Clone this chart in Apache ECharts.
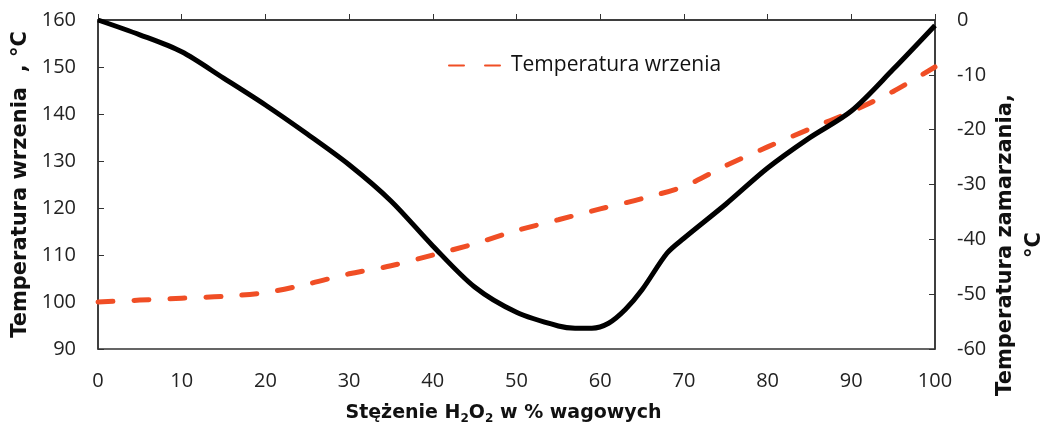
<!DOCTYPE html>
<html lang="pl">
<head>
    <meta charset="UTF-8">
    <title>H2O2</title>
    <script src="https://cdn.jsdelivr.net/npm/echarts@6/dist/echarts.min.js"></script>
    <style>
        html, body { margin: 0; padding: 0; background: #fff; }
        #chart { width: 1043px; height: 425px; }
    </style>
</head>
<body>
    <div id="chart"></div>
    <script>
        // stężenie H2O2, % wag.
        const conc = [0, 5, 10, 15, 20, 25, 30, 35, 40, 45, 50, 55, 57, 59, 61, 63, 65, 68, 70, 75, 80, 85, 90, 95, 100];
        // temperatura zamarzania, °C (prawa oś)
        const freezing = [0, -2.7, -5.8, -10.6, -15.5, -20.8, -26.4, -33.0, -41.2, -48.7, -53.3, -55.8, -56.2, -56.2, -55.3, -52.8, -49.2, -42.5, -39.8, -33.6, -27.0, -21.5, -16.6, -9.0, -1.0];

        const concB = [0, 5, 10, 15, 20, 25, 30, 35, 40, 45, 50, 55, 60, 65, 70, 75, 80, 85, 90, 95, 100];
        // temperatura wrzenia, °C (lewa oś)
        const boiling = [100, 100.4, 100.8, 101.2, 102.0, 103.8, 106.0, 107.7, 110.0, 112.4, 115.2, 117.5, 119.8, 122.0, 124.6, 129.0, 133.0, 136.8, 140.5, 144.8, 150];

        const font = '"Open Sans", sans-serif';
        const titleFont = '"DejaVu Sans", sans-serif';
        const chart = echarts.init(document.getElementById('chart'));

        chart.setOption({
            animation: false,
            grid: {
                left: 98, right: 108, top: 20, bottom: 76,
                outerBoundsMode: 'none',
                show: true, borderColor: '#333', borderWidth: 1.5
            },
            legend: {
                data: ['Temperatura wrzenia'],
                left: 443, top: 50,
                itemWidth: 57, itemHeight: 14, itemGap: 11,
                itemStyle: { opacity: 0 },
                lineStyle: { type: [15, 21] },
                textStyle: { fontFamily: font, fontSize: 21, color: '#111' }
            },
            xAxis: {
                type: 'value', min: 0, max: 100, interval: 10,
                name: 'Stężenie H{s|2}O{s|2} w % wagowych',
                nameLocation: 'middle', nameGap: 53,
                nameTextStyle: {
                    fontFamily: titleFont, fontSize: 19, fontWeight: 'bold', color: '#111',
                    padding: [0, 26, 0, 0],
                    rich: {
                        s: { fontFamily: titleFont, fontSize: 12, fontWeight: 'bold', color: '#111', padding: [11, 0, 0, 0] }
                    }
                },
                axisLine: { lineStyle: { color: '#333', width: 1.5 } },
                axisTick: { inside: true, length: 6, lineStyle: { color: '#333' } },
                axisLabel: { margin: 22, fontFamily: font, fontSize: 20, color: '#222' },
                splitLine: { show: false }
            },
            yAxis: [{
                type: 'value', min: 90, max: 160, interval: 10,
                name: 'Temperatura wrzenia  , °C',
                nameLocation: 'middle', nameGap: 66,
                nameTextStyle: { fontFamily: titleFont, fontSize: 21, fontWeight: 'bold', color: '#111' },
                axisLine: { show: true, lineStyle: { color: '#333', width: 1.5 } },
                axisTick: { show: true, inside: true, length: 6, lineStyle: { color: '#333' } },
                axisLabel: { margin: 22, fontFamily: font, fontSize: 20, color: '#222' },
                splitLine: { show: false }
            }, {
                type: 'value', min: -60, max: 0, interval: 10,
                position: 'right',
                axisLine: { show: true, lineStyle: { color: '#333', width: 1.5 } },
                axisTick: { show: true, inside: true, length: 6, lineStyle: { color: '#333' } },
                axisLabel: { margin: 22, fontFamily: font, fontSize: 20, color: '#222' },
                splitLine: { show: false }
            }],
            graphic: [{
                type: 'text',
                x: 1020, y: 245,
                rotation: Math.PI / 2,
                style: {
                    text: 'Temperatura zamarzania,\n°C',
                    font: 'bold 21px ' + titleFont,
                    fill: '#111',
                    align: 'center',
                    verticalAlign: 'middle',
                    lineHeight: 29
                }
            }],
            series: [{
                name: 'Temperatura wrzenia',
                type: 'line',
                yAxisIndex: 0,
                data: concB.map((c, i) => [c, boiling[i]]),
                smooth: 0.3,
                symbol: 'none',
                lineStyle: { color: '#F04E25', width: 5, type: [15, 21], cap: 'round' },
                itemStyle: { color: '#F04E25' }
            }, {
                name: 'Temperatura zamarzania',
                type: 'line',
                yAxisIndex: 1,
                data: conc.map((c, i) => [c, freezing[i]]),
                smooth: 0.3,
                symbol: 'none',
                lineStyle: { color: '#000', width: 5 },
                itemStyle: { color: '#000' }
            }]
        });
    </script>
</body>
</html>
